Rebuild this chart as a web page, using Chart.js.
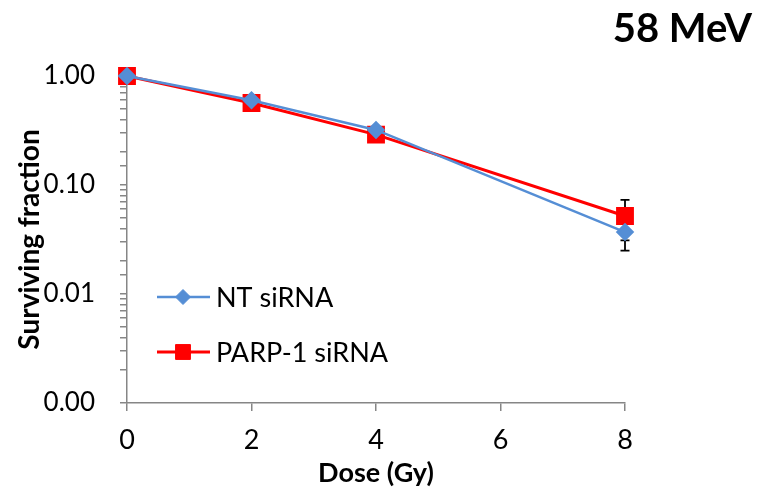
<!DOCTYPE html>
<html>
<head>
<meta charset="utf-8">
<script src="https://cdn.jsdelivr.net/npm/chart.js@4"></script>
<style>
  html, body { margin: 0; padding: 0; background: #fff; }
  #wrap { width: 762px; height: 490px; }
</style>
</head>
<body>
<div id="wrap"><canvas id="sf"></canvas></div>
<script>
const doses = [0, 2, 4, 8];
const ntValues = [1.0, 0.60, 0.32, 0.037];
const ntErrors = [0.0, 0.02, 0.02, 0.012];
const parpValues = [1.0, 0.565, 0.29, 0.052];
const parpErrors = [0.0, 0.02, 0.02, 0.021];
const seriesNames = ['NT siRNA', 'PARP-1 siRNA'];
const chartTitle = '58 MeV';
const yTickValues = [0.001, 0.01, 0.1, 1];
const xTickValues = [0, 2, 4, 6, 8];

const FONT = 'Lato, "Open Sans", sans-serif';
const AXIS = '#868686';

const toPoints = (vals) => vals.map((v, i) => ({ x: doses[i], y: v }));

// error bars go under the markers, like in the original
const errorBars = {
    id: 'errorBars',
    beforeDatasetsDraw(chart) {
        const { ctx, scales: { x, y } } = chart;
        ctx.save();
        ctx.strokeStyle = '#000';
        ctx.lineWidth = 1.8;
        chart.data.datasets.forEach(ds => {
            ds.data.forEach((p, i) => {
                const e = ds.errors[i];
                if (!e) return;
                const px = x.getPixelForValue(p.x);
                const top = y.getPixelForValue(p.y + e);
                const bot = y.getPixelForValue(Math.max(p.y - e, 1e-4));
                ctx.beginPath();
                ctx.moveTo(px, top); ctx.lineTo(px, bot);
                ctx.moveTo(px - 4.5, top); ctx.lineTo(px + 4.5, top);
                ctx.moveTo(px - 4.5, bot); ctx.lineTo(px + 4.5, bot);
                ctx.stroke();
            });
        });
        ctx.restore();
    }
};

const insideLegend = {
    id: 'insideLegend',
    afterDraw(chart) {
        const { ctx } = chart;
        const rows = [297, 352];
        ctx.save();
        chart.data.datasets.forEach((ds, i) => {
            const yy = rows[i];
            ctx.strokeStyle = ds.borderColor;
            ctx.lineWidth = ds.borderWidth;
            ctx.beginPath();
            ctx.moveTo(157, yy); ctx.lineTo(210, yy);
            ctx.stroke();
            ctx.fillStyle = ds.pointBackgroundColor;
            ctx.strokeStyle = ds.pointBorderColor;
            ctx.lineWidth = 1;
            Chart.helpers.drawPoint(ctx, {
                pointStyle: ds.pointStyle,
                radius: ds.pointRadius,
                borderWidth: 1
            }, 183, yy);
            ctx.fillStyle = '#000';
            ctx.font = '27px ' + FONT;
            ctx.textBaseline = 'middle';
            ctx.textAlign = 'left';
            ctx.fillText(ds.label, 216, yy + 1);
        });
        ctx.restore();
    }
};

const cornerTitle = {
    id: 'cornerTitle',
    afterDraw(chart) {
        const { ctx } = chart;
        ctx.save();
        ctx.fillStyle = '#000';
        ctx.font = 'bold 40px ' + FONT;
        ctx.textAlign = 'right';
        ctx.textBaseline = 'middle';
        ctx.fillText(chartTitle, 752, 29);
        ctx.restore();
    }
};

new Chart(document.getElementById('sf'), {
    type: 'line',
    data: {
        datasets: [{
            label: seriesNames[0],
            data: toPoints(ntValues),
            errors: ntErrors,
            borderColor: '#558ED5',
            backgroundColor: '#558ED5',
            pointBackgroundColor: '#558ED5',
            pointBorderColor: '#558ED5',
            pointStyle: 'rectRot',
            pointRadius: 7.5,
            borderWidth: 2.5
        }, {
            label: seriesNames[1],
            data: toPoints(parpValues),
            errors: parpErrors,
            borderColor: '#FF0000',
            backgroundColor: '#FF0000',
            pointBackgroundColor: '#FF0000',
            pointBorderColor: '#FF0000',
            pointStyle: 'rect',
            pointRadius: 10.5,
            borderWidth: 3
        }]
    },
    options: {
        responsive: true,
        maintainAspectRatio: false,
        animation: false,
        clip: false,
        layout: { padding: { left: 0, right: 137, top: 76, bottom: 0 } },
        plugins: {
            legend: { display: false },
            tooltip: { enabled: false },
            title: { display: false }
        },
        scales: {
            x: {
                type: 'linear',
                min: 0, max: 8,
                afterBuildTicks: (s) => { s.ticks = xTickValues.map(v => ({ value: v })); },
                afterFit: (s) => { s.height = 87; },
                border: { color: AXIS, width: 1.5 },
                grid: { drawOnChartArea: false, color: AXIS, tickLength: 8, lineWidth: 1.5 },
                ticks: { color: '#000', font: { family: FONT, size: 27 }, padding: 13 },
                title: {
                    display: true, text: 'Dose (Gy)', color: '#000',
                    font: { family: FONT, size: 27, weight: 'bold' },
                    padding: { top: 0, bottom: 1 }
                }
            },
            y: {
                type: 'logarithmic',
                min: 0.001, max: 1,
                afterFit: (s) => { s.width = 127; },
                border: { color: AXIS, width: 1.5 },
                grid: { drawOnChartArea: false, color: AXIS, tickLength: 7, lineWidth: 1.5 },
                ticks: {
                    color: '#000',
                    font: { family: FONT, size: 26 },
                    padding: 25,
                    autoSkip: false,
                    callback: (v) => yTickValues.some(t => Math.abs(t - v) / t < 1e-6) ? Number(v).toFixed(2) : ''
                },
                title: {
                    display: true, text: 'Surviving fraction', color: '#000',
                    font: { family: FONT, size: 28, weight: 'bold' },
                    padding: { top: 13, bottom: 0 }
                }
            }
        }
    },
    plugins: [errorBars, insideLegend, cornerTitle]
});
</script>
</body>
</html>
